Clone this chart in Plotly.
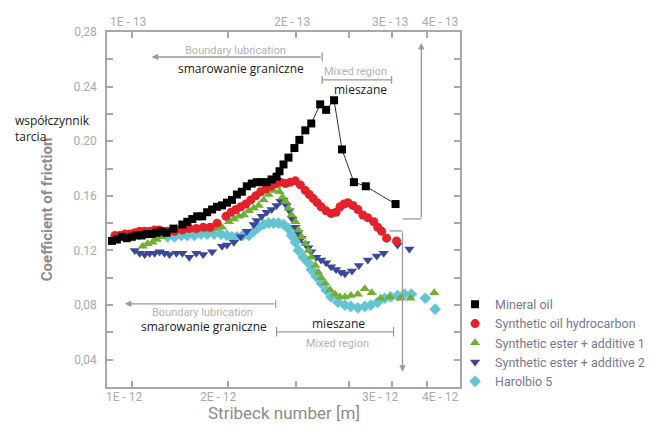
import plotly.graph_objects as go

# ---- data (x in arbitrary Stribeck-axis position units, y = coefficient of friction)
mineral_x = [2.5, 5, 7.5, 10, 12.5, 15, 17.5, 20, 22.5, 25, 27.5, 30, 33.5, 38, 40.5, 43, 45.5, 48, 50.5, 53,
             55.5, 58, 60.5, 63, 65.5, 68, 70.5, 73, 75.5, 78, 80.5, 83, 85.5, 87, 89, 91.5, 94.5, 97, 100, 103,
             107.5, 110.5, 114.5, 118.5, 124.5, 130.5, 145.5]
mineral_y = [0.127, 0.128, 0.130, 0.129, 0.130, 0.131, 0.131, 0.132, 0.132, 0.133, 0.134, 0.133, 0.136, 0.139,
             0.141, 0.143, 0.145, 0.145, 0.148, 0.150, 0.152, 0.153, 0.155, 0.157, 0.161, 0.163, 0.167, 0.169,
             0.170, 0.170, 0.170, 0.172, 0.174, 0.178, 0.183, 0.188, 0.195, 0.201, 0.208, 0.213, 0.227, 0.223,
             0.230, 0.194, 0.170, 0.167, 0.154]

synth_x = [4, 6.5, 9, 11.5, 14, 16.5, 19, 21.5, 24, 26.5, 30.5, 34, 38, 41.5, 45, 48.5, 52, 55.5, 60, 62.5, 65,
           67.5, 70, 72.5, 75, 77.5, 80, 82.5, 85, 87.5, 90, 92.5, 95, 97.5, 100, 102, 104, 106, 108, 110.5, 113,
           115.5, 117.5, 119.5, 121.5, 124, 126.5, 129, 131.5, 134.5, 136.5, 138.5, 141, 146]
synth_y = [0.131, 0.131, 0.132, 0.132, 0.133, 0.134, 0.134, 0.134, 0.135, 0.135, 0.134, 0.134, 0.135, 0.136,
           0.136, 0.137, 0.137, 0.140, 0.145, 0.148, 0.150, 0.152, 0.154, 0.157, 0.160, 0.163, 0.165, 0.167,
           0.169, 0.170, 0.169, 0.170, 0.171, 0.168, 0.164, 0.161, 0.158, 0.155, 0.152, 0.149, 0.147, 0.148,
           0.152, 0.154, 0.155, 0.153, 0.150, 0.146, 0.144, 0.141, 0.137, 0.134, 0.129, 0.127]

ester1_x = [18, 20.5, 23, 25, 27.5, 30, 32.5, 35, 40, 44, 47.5, 51, 54.5, 58, 61.5, 64, 66.5, 69, 71.5, 74, 76.5,
            79, 81.5, 84, 85.5, 87, 88.5, 90, 91.5, 93, 95, 96.5, 98, 100, 101.5, 103, 105, 106.5, 108, 110,
            112.5, 115, 117.5, 120, 123, 126.5, 130, 133.5, 138, 142.5, 148, 153, 165]
ester1_y = [0.123, 0.125, 0.126, 0.128, 0.130, 0.132, 0.134, 0.136, 0.135, 0.135, 0.136, 0.135, 0.136, 0.137,
            0.141, 0.143, 0.145, 0.146, 0.149, 0.151, 0.153, 0.157, 0.161, 0.164, 0.167, 0.163, 0.159, 0.156,
            0.151, 0.146, 0.141, 0.135, 0.130, 0.125, 0.120, 0.115, 0.109, 0.104, 0.100, 0.096, 0.091, 0.088,
            0.086, 0.086, 0.087, 0.088, 0.092, 0.089, 0.085, 0.086, 0.085, 0.085, 0.089]

ester2_x = [14, 16.5, 19, 21.5, 24, 26.5, 29, 31.5, 35, 38, 41.5, 45, 48.5, 53, 58, 60.5, 64, 67.5, 70.5, 74,
            75.5, 78, 80.5, 83, 85.5, 87.5, 89, 90.5, 92, 93.5, 95, 96.5, 98, 100, 101.5, 103, 105.5, 108,
            110.5, 113, 115.5, 118, 120, 123.5, 127, 131.5, 136, 139.5, 146.5, 152.5]
ester2_y = [0.120, 0.118, 0.117, 0.118, 0.118, 0.119, 0.118, 0.117, 0.118, 0.118, 0.115, 0.118, 0.117, 0.119,
            0.123, 0.124, 0.126, 0.130, 0.134, 0.139, 0.142, 0.145, 0.148, 0.150, 0.153, 0.156, 0.157, 0.153,
            0.149, 0.143, 0.137, 0.133, 0.129, 0.125, 0.122, 0.119, 0.115, 0.113, 0.111, 0.108, 0.106, 0.104,
            0.103, 0.105, 0.109, 0.113, 0.116, 0.118, 0.124, 0.121]

harol_x = [30.5, 34, 37.5, 40.5, 44, 47.5, 50.5, 54, 57.5, 60.5, 63, 65.5, 68.5, 71.5, 74, 76.5, 79, 81.5, 84,
           86.5, 89, 91.5, 93, 95, 96.5, 99, 101.5, 103, 105.5, 108, 110.5, 113, 116.5, 120, 123, 126.5, 130,
           133, 136.5, 140, 143, 146.5, 150, 153.5, 160.5, 165.5]
harol_y = [0.130, 0.130, 0.131, 0.131, 0.131, 0.132, 0.132, 0.132, 0.132, 0.131, 0.130, 0.130, 0.131, 0.131,
           0.134, 0.137, 0.139, 0.140, 0.140, 0.140, 0.139, 0.136, 0.131, 0.126, 0.120, 0.115, 0.111, 0.106,
           0.101, 0.096, 0.091, 0.086, 0.082, 0.080, 0.079, 0.078, 0.079, 0.080, 0.082, 0.085, 0.086, 0.087,
           0.088, 0.088, 0.085, 0.077]

x_tick_vals = [12.5, 61, 95.5, 122, 143.5, 161.5]
bottom_labels = ["1E - 12", "2E - 12", "3E - 12", "4E - 12"]
bottom_label_pos = [9, 56, 138, 168]
top_labels = ["1E - 13", "2E - 13", "3E - 13", "4E - 13"]
top_label_pos = [10.5, 93.5, 142.5, 168]
y_tick_vals = [0.02, 0.04, 0.06, 0.08, 0.10, 0.12, 0.14, 0.16, 0.18, 0.20, 0.22, 0.24, 0.26, 0.28]
y_tick_text = ["", "0,04", "", "0,08", "", "0.12", "", "0.16", "", "0.20", "", "0.24", "", "0,28"]

AX = "#a8a8a8"
LBL = "#a9a9a9"
NOTE = "#b3b3b3"
FONT = "Roboto"

fig = go.Figure()
# draw order: bottom-most first
fig.add_trace(go.Scatter(x=harol_x, y=harol_y, mode="markers", name="Harolbio 5", legendrank=5,
                         marker=dict(symbol="diamond", size=9, color="#64c4d4")))
fig.add_trace(go.Scatter(x=ester2_x, y=ester2_y, mode="markers", name="Synthetic ester + additive 2", legendrank=4,
                         marker=dict(symbol="triangle-down", size=9, color="#3d4799")))
fig.add_trace(go.Scatter(x=ester1_x, y=ester1_y, mode="markers", name="Synthetic ester + additive 1", legendrank=3,
                         marker=dict(symbol="triangle-up", size=9, color="#6fb033")))
fig.add_trace(go.Scatter(x=synth_x, y=synth_y, mode="markers", name="Synthetic oil hydrocarbon", legendrank=2,
                         marker=dict(symbol="circle", size=9, color="#e3222b")))
fig.add_trace(go.Scatter(x=mineral_x, y=mineral_y, mode="lines", showlegend=False, hoverinfo="skip",
                         line=dict(color="#333333", width=1)))
fig.add_trace(go.Scatter(x=mineral_x, y=mineral_y, mode="markers", name="Mineral oil", legendrank=1,
                         marker=dict(symbol="square", size=8, color="#000000")))

ann = []
for t, p in zip(bottom_labels, bottom_label_pos):
    ann.append(dict(x=p, y=0, xref="x", yref="paper", yanchor="top", yshift=-1, text=t, showarrow=False,
                    font=dict(family=FONT, size=12, color=LBL)))
for t, p in zip(top_labels, top_label_pos):
    ann.append(dict(x=p, y=1, xref="x", yref="paper", yanchor="bottom", yshift=1, text=t, showarrow=False,
                    font=dict(family=FONT, size=12, color=LBL)))

def txt(x, y, t, color, size, family):
    return dict(x=x, y=y, xref="x", yref="y", text=t, showarrow=False,
                font=dict(family=family, size=size, color=color))

def arrow(x, y, ax, ay):
    return dict(x=x, y=y, ax=ax, ay=ay, xref="x", yref="y", axref="x", ayref="y", text="",
                showarrow=True, arrowhead=2, arrowsize=1, arrowwidth=1.3, arrowcolor="#9a9a9a")

ann += [
    # top annotations
    txt(65, 0.2661, "Boundary lubrication", NOTE, 11, FONT),
    arrow(22.5, 0.2617, 108.5, 0.2617),
    txt(67.5, 0.2536, "smarowanie graniczne", "#1a1a1a", 12, "Open Sans"),
    txt(125.5, 0.2512, "Mixed region", NOTE, 11, FONT),
    txt(128, 0.2380, "mieszane", "#1a1a1a", 12, "Open Sans"),
    # bottom annotations
    txt(48, 0.0743, "Boundary lubrication", NOTE, 11, FONT),
    arrow(9, 0.0809, 85, 0.0809),
    txt(49, 0.0641, "smarowanie graniczne", "#1a1a1a", 12, "Open Sans"),
    txt(116.5, 0.0668, "mieszane", "#1a1a1a", 12, "Open Sans"),
    txt(116, 0.0520, "Mixed region", NOTE, 11, FONT),
    # right connectors
    arrow(158.5, 0.272, 158.5, 0.1431),
    arrow(149, 0.0311, 149, 0.1343),
    # axis titles / side note
    dict(x=-0.202, y=0.5, xref="paper", yref="paper", text="<b>Coefficient of friction</b>", textangle=-90,
         showarrow=False, font=dict(family=FONT, size=15, color="#8c8c8c")),
    dict(x=0.5, y=-0.072, xref="paper", yref="paper", yanchor="middle", text="Stribeck number [m]",
         showarrow=False, font=dict(family=FONT, size=17, color="#8c8c8c")),
    dict(x=-0.267, y=0.728, xref="paper", yref="paper", xanchor="left", yanchor="middle", align="left",
         text="współczynnik<br>tarcia", showarrow=False, font=dict(family="Open Sans", size=12, color="#1a1a1a")),
]

def seg(x0, y0, x1, y1):
    return dict(type="line", xref="x", yref="y", x0=x0, y0=y0, x1=x1, y1=y1,
                line=dict(color="#9a9a9a", width=1.3))

shapes = [
    seg(108.5, 0.2585, 108.5, 0.2650),   # top arrow end tick
    seg(108.5, 0.2449, 143.5, 0.2449),   # top mixed bracket
    seg(108.5, 0.2420, 108.5, 0.2478),
    seg(143.5, 0.2420, 143.5, 0.2478),
    seg(85, 0.0780, 85, 0.0835),         # bottom arrow end tick
    seg(85.5, 0.0604, 144.5, 0.0604),    # bottom mixed bracket
    seg(85.5, 0.0640, 85.5, 0.0570),
    seg(144.5, 0.0640, 144.5, 0.0570),
    seg(149, 0.1431, 158.5, 0.1431),     # connector to upward arrow
    seg(142.5, 0.1343, 149, 0.1343),     # connector to downward arrow
]

fig.update_layout(
    width=654, height=421,
    margin=dict(l=99, r=199, t=24, b=42),
    paper_bgcolor="white", plot_bgcolor="white",
    showlegend=True,
    legend=dict(x=0.986, y=0.274, xanchor="left", yanchor="top", bgcolor="rgba(0,0,0,0)",
                font=dict(family=FONT, size=12.5, color="#747a90"), tracegroupgap=0, itemwidth=30),
    annotations=ann, shapes=shapes,
    xaxis=dict(range=[0, 178], showgrid=False, zeroline=False, showline=True, mirror="allticks",
               linecolor=AX, linewidth=1.5, ticks="inside", ticklen=6, tickwidth=1.5, tickcolor=AX,
               tickvals=x_tick_vals, showticklabels=False),
    yaxis=dict(range=[0.02, 0.28], showgrid=False, zeroline=False, showline=True, mirror="allticks",
               linecolor=AX, linewidth=1.5, ticks="inside", ticklen=6, tickwidth=1.5, tickcolor=AX,
               tickvals=y_tick_vals, ticktext=y_tick_text, ticklabelstandoff=6,
               tickfont=dict(family=FONT, size=12, color=LBL)),
)

fig.write_html("out.html")
